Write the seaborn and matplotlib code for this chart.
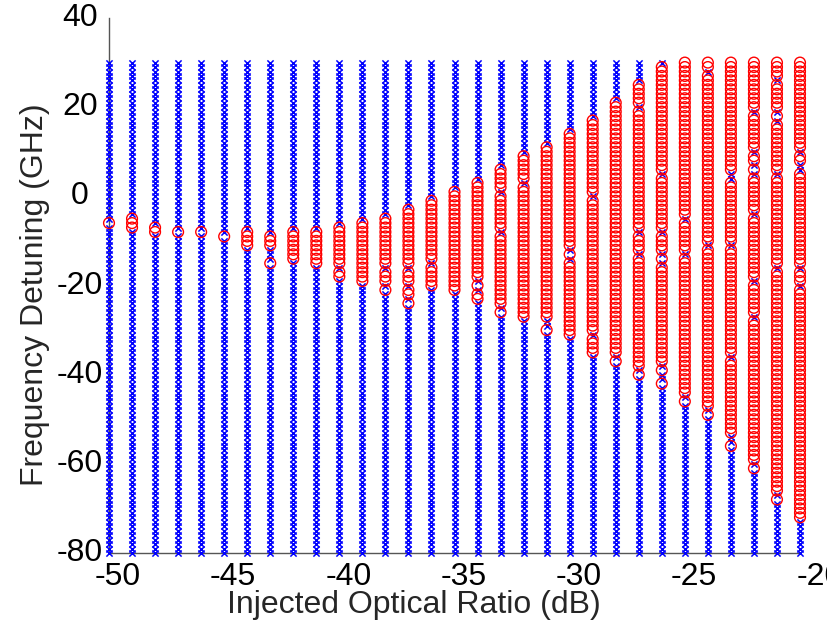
import numpy as np
import pandas as pd
import matplotlib
matplotlib.use("Agg")
import matplotlib.pyplot as plt
import seaborn as sns

# Injection ratio sweep (dB) and frequency-detuning sweep (GHz)
ratios = [-50, -49, -48, -47, -46, -45, -44, -43, -42, -41,
          -40, -39, -38, -37, -36, -35, -34, -33, -32, -31,
          -30, -29, -28, -27, -26, -25, -24, -23, -22, -21, -20]
detuning_lo = -80
detuning_hi = 30

# Detuning spans (inclusive, high -> low) where the laser is unlocked, per ratio
unlocked_spans = [
    [(-6, -6)],
    [(-5, -7)],
    [(-7, -8)],
    [(-8, -8)],
    [(-8, -8)],
    [(-9, -9)],
    [(-8, -11)],
    [(-9, -11), (-15, -15)],
    [(-8, -14)],
    [(-8, -15)],
    [(-7, -15), (-17, -18)],
    [(-6, -19)],
    [(-5, -15), (-17, -19), (-21, -21)],
    [(-3, -15), (-17, -19), (-21, -22), (-24, -24)],
    [(-1, -14), (-16, -20)],
    [(1, -21)],
    [(3, -18), (-20, -20), (-22, -23)],
    [(6, 2), (0, -7), (-9, -24), (-26, -26)],
    [(9, 4), (2, -27)],
    [(11, -27), (-30, -30)],
    [(14, -11), (-13, -13), (-15, -31)],
    [(17, 1), (-1, -30), (-32, -35)],
    [(21, -35), (-37, -37)],
    [(25, 21), (19, -7), (-9, -12), (-14, -38), (-40, -40)],
    [(29, 6), (4, -7), (-9, -12), (-14, -14), (-16, -37), (-39, -39), (-42, -42)],
    [(30, -4), (-6, -12), (-14, -44), (-46, -46)],
    [(30, 29), (27, -10), (-12, -47), (-49, -49)],
    [(30, 6), (3, -10), (-12, -35), (-37, -53), (-56, -56)],
    [(30, 20), (18, 11), (9, 8), (6, 6), (4, -3), (-5, -18), (-20, -26),
     (-28, -59), (-61, -61)],
    [(30, 27), (25, 20), (18, 18), (16, 6), (4, -15), (-17, -66), (-68, -68)],
    [(30, 11), (9, 8), (5, -15), (-17, -19), (-21, -72)],
]

x_ticks = [-50, -45, -40, -35, -30, -25, -20]
y_ticks = [40, 20, 0, -20, -40, -60, -80]

# Build a long table: one row per (ratio, detuning) sample
rows = []
for r, spans in zip(ratios, unlocked_spans):
    unlocked = set()
    for hi, lo in spans:
        unlocked.update(range(lo, hi + 1))
    for d in range(detuning_lo, detuning_hi + 1):
        rows.append((r, d, "unlocked" if d in unlocked else "locked"))
df = pd.DataFrame(rows, columns=["ratio", "detuning", "state"])

sns.set_style("white")
plt.rcParams["font.family"] = ["Liberation Sans", "DejaVu Sans"]

W, H = 828, 628
fig = plt.figure(figsize=(W / 100, H / 100), dpi=100)
ax_l, ax_r, ax_t, ax_b = 109, 800, 18, 553
ax = fig.add_axes([ax_l / W, (H - ax_b) / H, (ax_r - ax_l) / W, (ax_b - ax_t) / H])

sns.scatterplot(data=df[df.state == "locked"], x="ratio", y="detuning",
                marker="x", color="#0000ff", s=20, linewidth=1.1,
                clip_on=False, legend=False, ax=ax, zorder=3)
sns.scatterplot(data=df[df.state == "unlocked"], x="ratio", y="detuning",
                marker="o", facecolor="none", edgecolor="#ff0000", s=60,
                linewidth=1.0, clip_on=False, legend=False, ax=ax, zorder=4)

ax.set_xlim(-50, -20)
ax.set_ylim(-80, 40)
ax.set_xticks(x_ticks)
ax.set_yticks(y_ticks)
ax.tick_params(direction="in", length=5, width=0.8, color="#555555",
               labelleft=False, labelbottom=False)
for side in ("top", "right"):
    ax.spines[side].set_visible(False)
for side in ("left", "bottom"):
    ax.spines[side].set_color("#555555")
    ax.spines[side].set_linewidth(1.0)
ax.set_xlabel("")
ax.set_ylabel("")

fs = 23
px = 72 / 100  # points per pixel

# Tick labels
x_nudge = [9, 9, 9, 9, 9, 9, 20]
for v, dx in zip(x_ticks, x_nudge):
    ax.annotate(f"{v:d}", xy=(v, 0), xycoords=("data", "axes fraction"),
                xytext=(dx * px, -24 * px), textcoords="offset points",
                ha="center", va="center", fontsize=fs, color="black",
                annotation_clip=False)
for v in y_ticks:
    ax.annotate(f"{v:d}", xy=(0, v), xycoords=("axes fraction", "data"),
                xytext=(-29 * px, 0), textcoords="offset points",
                ha="center", va="center", fontsize=fs, color="black",
                annotation_clip=False)

# Axis titles
fig.text(414 / W, 1 - 605 / H, "Injected Optical Ratio (dB)",
         ha="center", va="center", fontsize=fs)
fig.text(35 / W, 1 - 295 / H, "Frequency Detuning (GHz)",
         ha="center", va="center", rotation=90, fontsize=fs)

fig.savefig("out.png", dpi=100)
